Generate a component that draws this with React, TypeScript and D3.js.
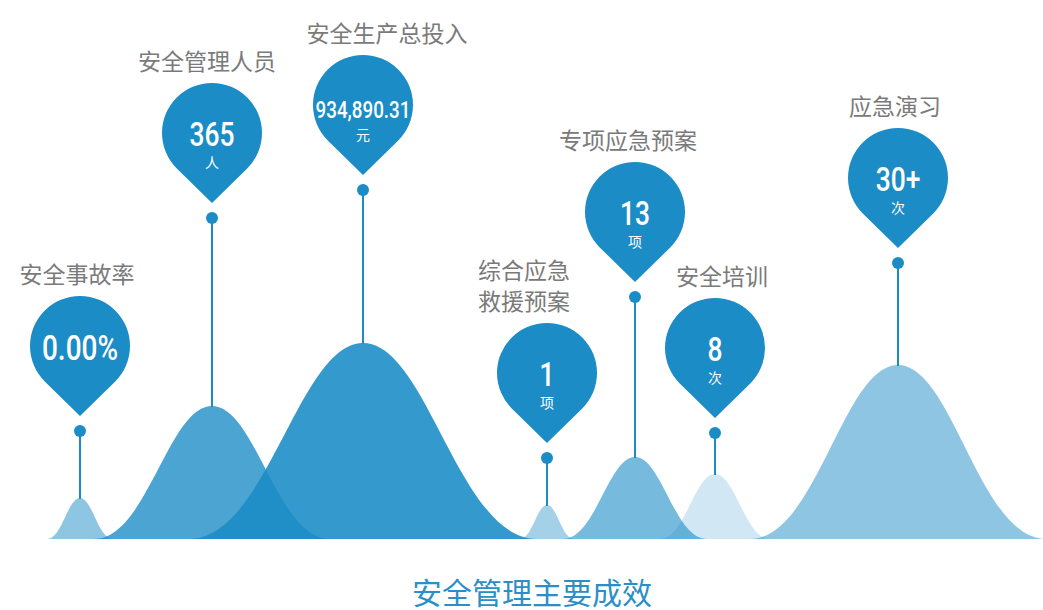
import React from 'react';
import * as d3 from 'd3';

const labelLines: string[][] = [
  ['安全事故率'],
  ['安全管理人员'],
  ['安全生产总投入'],
  ['综合应急', '救援预案'],
  ['专项应急预案'],
  ['安全培训'],
  ['应急演习'],
];
const values = ['0.00%', '365', '934,890.31', '1', '13', '8', '30+'];
const units = ['', '人', '元', '项', '项', '次', '次'];
// peak centre (horizontal domain units)
const peakPos = [80, 212, 363, 547, 635, 715, 898];
// mountain height (above baseline)
const peakHeight = [41, 133, 196, 34, 82, 65, 174];
// mountain half-spread (horizontal domain units)
const peakSpread = [33, 118, 174, 27, 72, 55, 148];
const peakOpacity = [0.5, 0.79, 0.89, 0.4, 0.6, 0.2, 0.5];
// pin head centre level (above baseline)
const pinLevel = [193, 406, 434, 166, 327, 191, 361];
const labelDx = [-3, -5, 24, -23, -7, 7, -3];
const valueSize = [35, 33, 23.5, 34, 33, 33, 33];

const W = 1043;
const H = 610;
const BASE = 539;
const BLUE = '#1b8cc6';

export default function App() {
  const x = d3.scaleLinear().domain([0, W]).range([0, W]);
  const y = d3.scaleLinear().domain([0, BASE]).range([BASE, 0]);

  const bell = (c: number, h: number, w: number) => {
    const a = 0.45;
    const b = 0.37;
    const x0 = x(c - w);
    const x1 = x(c + w);
    const xc = x(c);
    const hw = xc - x0;
    const top = y(h);
    const p = d3.path();
    p.moveTo(x0, BASE);
    p.bezierCurveTo(x0 + a * hw, BASE, xc - b * hw, top, xc, top);
    p.bezierCurveTo(xc + b * hw, top, x1 - a * hw, BASE, x1, BASE);
    p.closePath();
    return p.toString();
  };

  const pin = (cx: number, cy: number) => {
    const r = 50;
    const d = 70;
    const phi = Math.acos(r / d);
    const tx = r * Math.sin(phi);
    const ty = r * Math.cos(phi);
    return `M${cx},${cy + d} L${cx + tx},${cy + ty} A${r},${r} 0 1 0 ${cx - tx},${cy + ty} Z`;
  };

  return (
    <svg
      width={W}
      height={H}
      style={{ position: 'absolute', left: 0, top: 0, background: '#fff' }}
    >
      <g>
        {peakPos.map((c, i) => (
          <path
            key={'m' + i}
            d={bell(c, peakHeight[i], peakSpread[i])}
            fill={BLUE}
            fillOpacity={peakOpacity[i]}
          />
        ))}
      </g>
      {peakPos.map((c, i) => {
        const cx = x(c);
        const cy = y(pinLevel[i]);
        const dotY = cy + 85;
        const top = y(peakHeight[i]);
        const lines = labelLines[i];
        const lx = cx + labelDx[i];
        return (
          <g key={'p' + i}>
            <line x1={cx} x2={cx} y1={dotY} y2={top + 1} stroke={BLUE} strokeWidth={2} />
            <circle cx={cx} cy={dotY} r={6} fill={BLUE} />
            <path d={pin(cx, cy)} fill={BLUE} />
            <g transform={`translate(${cx},${cy + (units[i] ? 13 : 14)}) scale(0.8,1)`}>
              <text
                textAnchor="middle"
                fill="#fff"
                fontFamily="Roboto, 'DejaVu Sans', sans-serif"
                fontWeight={500}
                fontSize={valueSize[i]}
              >
                {values[i]}
              </text>
            </g>
            {units[i] && (
              <text
                x={cx}
                y={cy + 35}
                textAnchor="middle"
                fill="#fff"
                fontFamily="'Noto Sans CJK SC', sans-serif"
                fontSize={14}
              >
                {units[i]}
              </text>
            )}
            {lines.map((t, k) => (
              <text
                key={k}
                x={lx}
                y={cy - 73 - (lines.length - 1 - k) * 31}
                textAnchor="middle"
                dominantBaseline="central"
                fill="#7a7a7a"
                fontFamily="'Noto Sans CJK SC', sans-serif"
                fontSize={23}
              >
                {t}
              </text>
            ))}
          </g>
        );
      })}
      <text
        x={532}
        y={591}
        textAnchor="middle"
        dominantBaseline="central"
        fill="#2a8fc8"
        fontFamily="'Noto Sans CJK SC', sans-serif"
        fontSize={30}
      >
        安全管理主要成效
      </text>
    </svg>
  );
}
